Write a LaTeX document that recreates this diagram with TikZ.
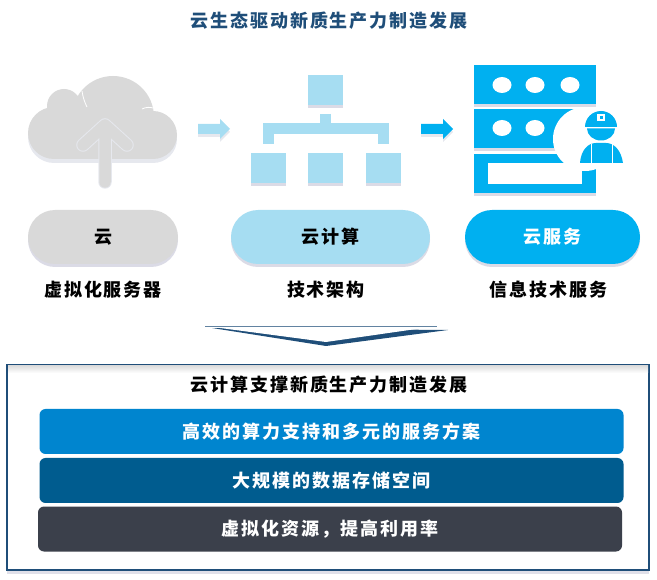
\documentclass[tikz,border=0pt]{standalone}
\usepackage{fontspec}
\newfontfamily\cjk[LetterSpace=11]{Noto Sans CJK SC}
\usetikzlibrary{shadows}
\definecolor{cloudgray}{HTML}{D9D9D9}
\definecolor{paleblue}{HTML}{A6DDF2}
\definecolor{cyanblue}{HTML}{00B0F0}
\definecolor{navyblue}{HTML}{1F4E79}
\definecolor{barone}{HTML}{0085CF}
\definecolor{bartwo}{HTML}{005C8F}
\definecolor{barthree}{HTML}{3B404B}
\definecolor{softgray}{HTML}{E6E8EE}
\tikzset{
	softshadow/.style={drop shadow={shadow xshift=0pt,shadow yshift=-3pt,opacity=.14,fill=black!70!blue}},
	labeltext/.style={font=\cjk\bfseries\fontsize{18}{20}\selectfont,inner sep=0pt},
	leafbox/.style={fill=paleblue,minimum width=35pt,minimum height=30pt,inner sep=0pt,softshadow},
	pillbox/.style={labeltext,rounded corners=27pt,minimum height=54pt,softshadow},
	serverrow/.style={fill=cyanblue,minimum width=122pt,minimum height=39pt,inner sep=0pt,softshadow},
	barbox/.style={labeltext,text=white,rounded corners=6pt,minimum width=584pt,minimum height=45pt},
	treeline/.style={line width=11pt,paleblue}
}
% flat block arrow: start x, colour
\newcommand{\blockarrow}[2]{
	\fill[softgray,yshift=-3pt] (#1,124) -- ++(22,0) -- ++(0,-5) -- ++(10,10) -- ++(-10,10) -- ++(0,-5) -- ++(-22,0) -- cycle;
	\fill[#2] (#1,124) -- ++(22,0) -- ++(0,-5) -- ++(10,10) -- ++(-10,10) -- ++(0,-5) -- ++(-22,0) -- cycle;
}
\begin{document}
\begin{tikzpicture}[x=1pt,y=-1pt]
	\useasboundingbox (0,0) rectangle (657,580);

	% Title
	\node[labeltext,text=navyblue] (title) at (329,21) {云生态驱动新质生产力制造发展};

	% Cloud
	\def\cloudshape{(54,133) circle (26) (64,106) circle (17) (113,117) circle (41)
		(153,135) circle (24) (153,125) rectangle (54,159)}
	\fill[softgray,yshift=-4pt] \cloudshape;
	\fill[cloudgray] \cloudshape;
	\draw[white,line width=.8pt] (82,91) .. controls (83,98) and (85,103) .. (87,107);
	\draw[white,line width=.8pt] (142,109) .. controls (146,107) and (150,107) .. (153,108);
	\draw[softgray,line width=13.5pt,line cap=round,line join=round]
		(83,145) -- (105,125) -- (127,145) (105,125) -- (105,182);
	\draw[cloudgray,line width=11.5pt,line cap=round,line join=round]
		(83,145) -- (105,125) -- (127,145) (105,125) -- (105,182);

	\blockarrow{198}{paleblue}

	% Hierarchy
	\node[leafbox] (rootbox) at (325.5,90) {};
	\node[leafbox] (leafa) at (268,168) {};
	\node[leafbox] (leafb) at (325.5,168) {};
	\node[leafbox] (leafc) at (383.5,168) {};
	\coordinate (stubleft) at (268,144);
	\coordinate (stubright) at (383.5,144);
	\coordinate (barleft) at (268,129);
	\coordinate (barright) at (383.5,129);
	\coordinate (stemtop) at (325.5,114);
	\coordinate (stemfoot) at (325.5,129);
	\draw[treeline,softgray,yshift=-3pt] (stubleft) -- (barleft) -- (barright) -- (stubright);
	\draw[treeline] (stubleft) -- (barleft) -- (barright) -- (stubright);
	\draw[treeline] (stemtop) -- (stemfoot);

	\blockarrow{421}{cyanblue}

	% Server rows
	\node[serverrow] (rowa) at (535,84.5) {};
	\node[serverrow] (rowb) at (535,128.5) {};
	\node[serverrow] (rowc) at (535,173.5) {};
	\foreach \px in {502,535,570} \fill[white] (\px,85) ellipse [x radius=9.5,y radius=8];
	\foreach \px in {502,535} \fill[white] (\px,128) ellipse [x radius=9.5,y radius=8];
	\fill[white] (488,163) rectangle (582,184);
	\fill[white] (585,139) circle (32);

	% Worker
	\fill[cyanblue] (585,127) arc[start angle=180,end angle=360,radius=16] -- cycle;
	\fill[white] (597,114) rectangle (605,121);
	\fill[cyanblue] (599.5,116.5) rectangle (602.5,119);
	\fill[cyanblue] (587,128.5) arc[start angle=180,end angle=0,x radius=14,y radius=12] -- cycle;
	\fill[cyanblue] (580,163) .. controls (581,150) and (588,143) .. (596,143) -- (606,143)
		.. controls (614,143) and (621,150) .. (623,163) -- cycle;
	\draw[white,line width=.8pt] (591,144) -- (591,163) (612,144) -- (612,163);

	% Pills
	\node[pillbox,fill=cloudgray,minimum width=150pt] (pillcloud) at (103,237) {云};
	\node[pillbox,fill=paleblue,minimum width=199pt] (pillcompute) at (330.5,237) {云计算};
	\node[pillbox,fill=cyanblue,text=white,minimum width=175pt] (pillservice) at (552.5,237) {云服务};
	\node[labeltext] (labelcloud) at (103,290) {虚拟化服务器};
	\node[labeltext] (labelcompute) at (326,290) {技术架构};
	\node[labeltext] (labelservice) at (548.5,290) {信息技术服务};

	% Chevron
	\fill[navyblue] (212,328) -- (448,330) -- (326,346) -- cycle;
	\fill[white] (205,326) -- (437,326) -- (326,342) -- cycle;
	\draw[navyblue!70!white,line width=.6pt] (205,326) -- (437,326);

	% Lower frame
	\node[draw=navyblue,line width=1.8pt,fill=white,minimum width=642pt,minimum height=205pt,inner sep=0pt,
		drop shadow={shadow xshift=0pt,shadow yshift=-4pt,opacity=.12,fill=black!70!blue}] (frame) at (328,467.5) {};
	\fill[top color=black!13,bottom color=white] (8,366) rectangle (648,373);
	\node[labeltext] (frametitle) at (329,385) {云计算支撑新质生产力制造发展};
	\node[barbox,fill=barone] (barcloud) at (331.5,431.5) {高效的算力支持和多元的服务方案};
	\node[barbox,fill=bartwo] (barstore) at (331.5,480.5) {大规模的数据存储空间};
	\node[barbox,fill=barthree] (barvirtual) at (330,529) {虚拟化资源，提高利用率};
\end{tikzpicture}
\end{document}
